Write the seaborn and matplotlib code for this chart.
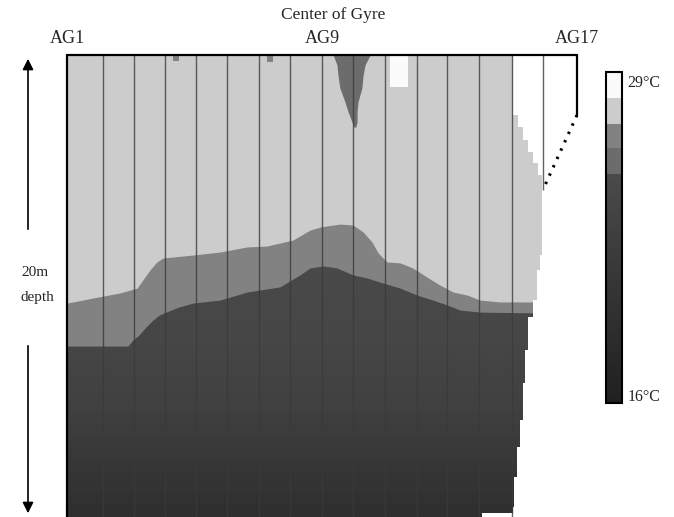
import matplotlib
matplotlib.use("Agg")
import matplotlib.pyplot as plt
import numpy as np
import pandas as pd
import seaborn as sns
from matplotlib.colors import LinearSegmentedColormap, Normalize
from matplotlib.transforms import Affine2D

# transect stations AG1..AG17 (x in station units, 0..16)
stations = ["AG%d" % i for i in range(1, 18)]
station_x = [0, 1.13, 2.10, 3.07, 4.05, 5.02, 6.02, 7.00, 8.00, 8.97, 9.98,
             10.98, 11.92, 12.93, 13.96, 14.93, 16]
labeled = ["AG1", "AG9", "AG17"]

# water temperature below the thermocline, every half metre (0-20 m)
depth_m = [i * 0.5 for i in range(40)]
deep_temp = [25] * 18 + [24.7, 24.6, 24.5, 24.4, 24.3, 24.2, 24.1, 24.0, 23.8,
                         23.6, 23.4, 23.1, 22.8, 22.4, 22.0, 21.6, 21.2, 20.8,
                         20.4, 20.0, 19.6, 19.3]

# depth (m) of the 27 C isotherm (light / mid-grey boundary)
iso27_x = [0, 0.82, 1.66, 2.20, 2.38, 2.60, 2.82, 3.01, 3.95, 4.80, 5.65, 6.27,
           7.09, 7.62, 7.94, 8.16, 8.56, 8.97, 9.29, 9.57, 9.76, 10.04, 10.45,
           10.85, 11.29, 11.70, 12.11, 12.55, 12.96, 13.58, 15.0]
iso27_d = [10.74, 10.52, 10.30, 10.09, 9.74, 9.31, 8.96, 8.79, 8.66, 8.53, 8.31,
           8.27, 8.01, 7.58, 7.45, 7.40, 7.32, 7.36, 7.66, 8.10, 8.57, 8.96,
           9.00, 9.22, 9.61, 9.96, 10.26, 10.39, 10.61, 10.69, 10.69]

# depth (m) of the 26 C isotherm (mid-grey / dark boundary)
iso26_x = [0, 1.91, 2.07, 2.26, 2.48, 2.70, 2.89, 3.11, 3.51, 3.95, 4.80, 5.65,
           6.68, 7.31, 7.62, 8.03, 8.47, 8.97, 9.41, 9.91, 10.45, 10.98, 11.48,
           11.92, 12.33, 12.96, 15.0]
iso26_d = [12.60, 12.60, 12.34, 12.12, 11.77, 11.47, 11.26, 11.13, 10.91, 10.74,
           10.61, 10.26, 10.04, 9.52, 9.22, 9.13, 9.22, 9.52, 9.65, 9.87, 10.09,
           10.39, 10.61, 10.82, 11.04, 11.13, 11.17]

# cooler tongue under the centre of the gyre
tongue_d = [0, 0.43, 0.87, 1.43, 2.03, 2.47, 2.90, 3.12]
tongue_left = [8.35, 8.47, 8.50, 8.56, 8.72, 8.82, 8.94, 9.00]
tongue_right = [9.51, 9.35, 9.29, 9.25, 9.13, 9.10, 9.10, 9.06]

# small cool notches at the surface
notch_x = [[3.32, 3.50], [6.27, 6.46]]
notch_d = [0.25, 0.3]

# warm surface patch
patch_x = [10.13, 10.70]
patch_d = 1.39

# eastern limit of measured data (station units) by depth
edge_d = [0, 2.6, 3.1, 3.68, 4.2, 4.68, 5.2, 8.66, 9.31, 10.6, 11.34, 12.77,
          14.2, 15.8, 16.97, 18.27, 19.57, 19.83, 20]
edge_x = [13.99, 14.15, 14.31, 14.45, 14.62, 14.78, 14.90, 14.84, 14.75, 14.62,
          14.46, 14.37, 14.31, 14.21, 14.12, 14.02, 13.99, 13.02, 13.02]

layer_temp = {"light": 27.5, "band": 26.5, "tongue": 25.5, "warm": 28.5}

sns.set_style("white")
plt.rcParams['font.family'] = ['Liberation Serif', 'DejaVu Serif']

cmap = LinearSegmentedColormap.from_list("sst", [
    (0.0, "#202020"), (9 / 13, "#4a4a4a"),
    (9 / 13, "#6c6c6c"), (10 / 13, "#6c6c6c"),
    (10 / 13, "#828282"), (11 / 13, "#828282"),
    (11 / 13, "#cccccc"), (12 / 13, "#cccccc"),
    (12 / 13, "#fbfbfb"), (1.0, "#fbfbfb")])
norm = Normalize(16, 29)

W, H = 674, 517
fig = plt.figure(figsize=(W / 100, H / 100), dpi=100)
ax = fig.add_axes([67 / W, 0, 510 / W, 462 / H])
cax = fig.add_axes([606 / W, 1 - 403 / H, 16 / W, 331 / H])

grid = pd.DataFrame(np.repeat(np.array(deep_temp)[:, None], 16, axis=1),
                    index=depth_m, columns=stations[:16])
sns.heatmap(grid, ax=ax, cmap=cmap, vmin=16, vmax=29, cbar_ax=cax,
            xticklabels=False, yticklabels=False)
cbar = ax.collections[0].colorbar
cbar.outline.set_linewidth(1.5)
cbar.outline.set_edgecolor("black")
cbar.set_ticks([28.65, 16.3], labels=["29°C", "16°C"])
cax.tick_params(length=0, labelsize=11.5, pad=4)

# heatmap rows are half metres: draw everything else in metres
tr = Affine2D().scale(1, len(depth_m) / 20) + ax.transData

ax.fill_between(iso26_x, 0, iso26_d, color=cmap(norm(layer_temp["band"])),
                lw=0, zorder=2, transform=tr)
ax.fill_between(iso27_x, 0, iso27_d, color=cmap(norm(layer_temp["light"])),
                lw=0, zorder=2, transform=tr)
ax.fill_betweenx(tongue_d, tongue_left, tongue_right,
                 color=cmap(norm(layer_temp["tongue"])), lw=0, zorder=2, transform=tr)
for nx, nd in zip(notch_x, notch_d):
    ax.fill_between(nx, 0, nd, color=cmap(norm(layer_temp["band"])), lw=0,
                    zorder=2, transform=tr)
ax.fill_between(patch_x, 0, patch_d, color=cmap(norm(layer_temp["warm"])),
                lw=0, zorder=2, transform=tr)
ax.fill_betweenx(edge_d, edge_x, 16, step="post", color="white", lw=0,
                 zorder=3, transform=tr)

# station lines
ax.vlines(station_x[1:15], 0, 20, colors="#3a3a3a", lw=1.0, alpha=0.8,
          zorder=4, transform=tr)
ax.vlines(station_x[15], 0, 5.84, colors="#3a3a3a", lw=1.0, alpha=0.8,
          zorder=4, transform=tr)

# frame
kw = dict(color="black", lw=1.6, clip_on=False, zorder=6, transform=tr)
ax.plot([0, 16], [0, 0], **kw)
ax.plot([0, 0], [0, 20], **kw)
ax.plot([16, 16], [0, 2.6], **kw)
ax.plot([16, station_x[15]], [2.6, 5.84], color="black", lw=2.2,
        ls=(0, (0.8, 2.2)), clip_on=False, zorder=6, transform=tr)
ax.set_xlim(0, 16)
ax.set_ylim(len(depth_m), 0)

for name in labeled:
    ax.text(station_x[stations.index(name)], -0.72, name, ha="center",
            va="center", fontsize=13, transform=tr)
ax.text(8.35, -1.75, "Center of Gyre", ha="center", va="center",
        fontsize=12.5, transform=tr)

# depth axis annotation
fig.text(35 / W, 1 - 272 / H, "20m", ha="center", va="center", fontsize=11)
fig.text(37 / W, 1 - 298 / H, "depth", ha="center", va="center", fontsize=11)
arrow = dict(arrowstyle="-|>", color="black", lw=1.2, mutation_scale=16)
fig.add_artist(matplotlib.patches.FancyArrowPatch(
    (28 / W, 1 - 232 / H), (28 / W, 1 - 56 / H),
    transform=fig.transFigure, **arrow))
fig.add_artist(matplotlib.patches.FancyArrowPatch(
    (28 / W, 1 - 343 / H), (28 / W, 1 - 516 / H),
    transform=fig.transFigure, **arrow))

fig.savefig("out.png", dpi=100)
